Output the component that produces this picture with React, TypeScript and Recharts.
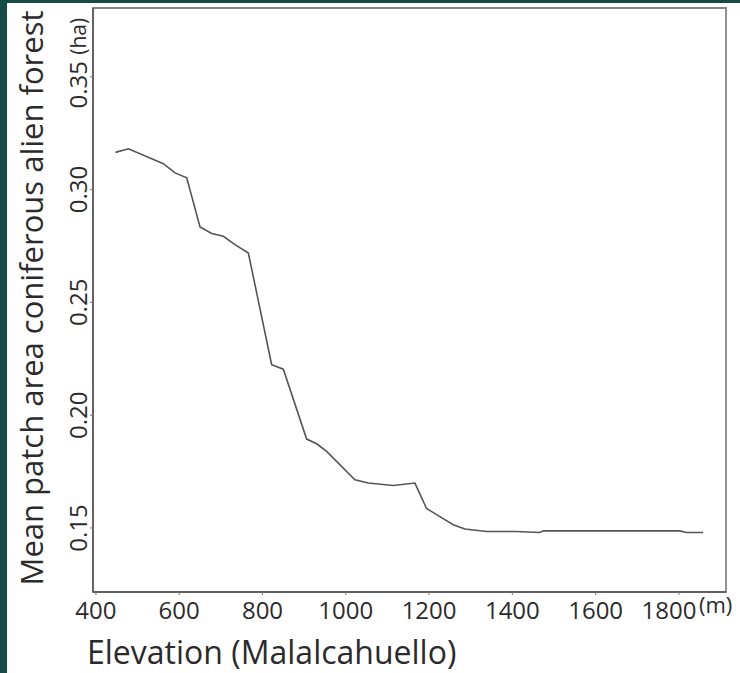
import React from 'react';
import { LineChart, Line, XAxis, YAxis, ReferenceArea } from 'recharts';

// elevation (m) and mean patch area (ha)
const elevation = [
  447, 478, 562, 590, 618, 650, 678, 706, 734, 766, 822, 850, 906, 930, 954,
  1022, 1054, 1114, 1166, 1194, 1226, 1258, 1286, 1338, 1410, 1466, 1474, 1802,
  1818, 1858,
];
const patchArea = [
  0.3165, 0.3181, 0.3115, 0.3074, 0.3052, 0.2834, 0.2805, 0.2793, 0.2756,
  0.2719, 0.2224, 0.2204, 0.1894, 0.1873, 0.1839, 0.1713, 0.1699, 0.1688,
  0.1699, 0.1586, 0.155, 0.1514, 0.1495, 0.1484, 0.1484, 0.148, 0.1487,
  0.1487, 0.148, 0.148,
];
const xTicks = [400, 600, 800, 1000, 1200, 1400, 1600, 1800];
const yTicks = [0.15, 0.2, 0.25, 0.3, 0.35];

const X_DOMAIN = [393, 1913];
const Y_DOMAIN = [0.1216, 0.3805];

const data = elevation.map((e, i) => ({ elevation: e, area: patchArea[i] }));

const FONT = '"Open Sans", sans-serif';
const TEXT = '#2b2b2b';
const FRAME = '#858585';

const XTick = ({ x, y, payload }: any) => {
  const last = payload.value === 1800;
  return (
    <g>
      <text
        x={last ? x - 10 : x}
        y={y + 22}
        textAnchor="middle"
        fontSize={24}
        fontFamily={FONT}
        fill={TEXT}
      >
        {payload.value}
      </text>
      {last && (
        <text x={x + 20} y={y + 16} fontSize={22} fontFamily={FONT} fill={TEXT}>
          (m)
        </text>
      )}
    </g>
  );
};

const YTick = ({ x, y, payload }: any) => {
  const cx = x - 10;
  const top = payload.value === 0.35;
  const cy = top ? y + 8 : y;
  return (
    <g transform={`rotate(-90, ${cx}, ${cy})`}>
      <text x={cx} y={cy} textAnchor="middle" dominantBaseline="central" fontSize={24} fontFamily={FONT} fill={TEXT}>
        {payload.value.toFixed(2)}
      </text>
      {top && (
        <text x={cx + 30} y={cy} dominantBaseline="central" fontSize={21} fontFamily={FONT} fill={TEXT}>
          (ha)
        </text>
      )}
    </g>
  );
};

export default function App() {
  return (
    <div
      style={{
        position: 'absolute',
        left: 0,
        top: 0,
        width: 740,
        height: 673,
        background: '#164b48',
      }}
    >
      <div style={{ position: 'absolute', left: 7, top: 3, width: 733, height: 670, background: '#fff' }} />
      <div style={{ position: 'absolute', left: 0, top: 0 }}>
        <LineChart
          width={740}
          height={673}
          data={data}
          margin={{ top: 8, right: 14, bottom: 0, left: 0 }}
        >
          <XAxis
            dataKey="elevation"
            type="number"
            domain={X_DOMAIN}
            ticks={xTicks}
            allowDataOverflow
            height={81}
            axisLine={{ stroke: '#555', strokeWidth: 1.5 }}
            tickLine={{ stroke: '#777' }}
            tickSize={3}
            tick={<XTick />}
            label={{
              content: ({ viewBox }: any) => (
                <text
                  x={viewBox.x - 6}
                  y={viewBox.y + 72}
                  fontSize={32}
                  fontFamily={FONT}
                  fill={TEXT}
                >
                  Elevation (Malalcahuello)
                </text>
              ),
            }}
          />
          <YAxis
            type="number"
            domain={Y_DOMAIN}
            ticks={yTicks}
            allowDataOverflow
            width={93}
            axisLine={{ stroke: '#555', strokeWidth: 1.5 }}
            tickLine={{ stroke: '#777' }}
            tickSize={3}
            tick={<YTick />}
            label={{
              content: ({ viewBox }: any) => {
                const cx = 31;
                const cy = viewBox.y + viewBox.height / 2 - 2;
                return (
                  <text
                    x={cx}
                    y={cy}
                    transform={`rotate(-90, ${cx}, ${cy})`}
                    textAnchor="middle"
                    dominantBaseline="central"
                    fontSize={31}
                    fontFamily={FONT}
                    fill={TEXT}
                  >
                    Mean patch area coniferous alien forest
                  </text>
                );
              },
            }}
          />
          <ReferenceArea
            x1={X_DOMAIN[0]}
            x2={X_DOMAIN[1]}
            y1={Y_DOMAIN[0]}
            y2={Y_DOMAIN[1]}
            fill="none"
            fillOpacity={0}
            stroke={FRAME}
            strokeWidth={1.8}
          />
          <Line
            type="linear"
            dataKey="area"
            stroke="#555"
            strokeWidth={1.6}
            dot={false}
            isAnimationActive={false}
          />
        </LineChart>
      </div>
    </div>
  );
}
